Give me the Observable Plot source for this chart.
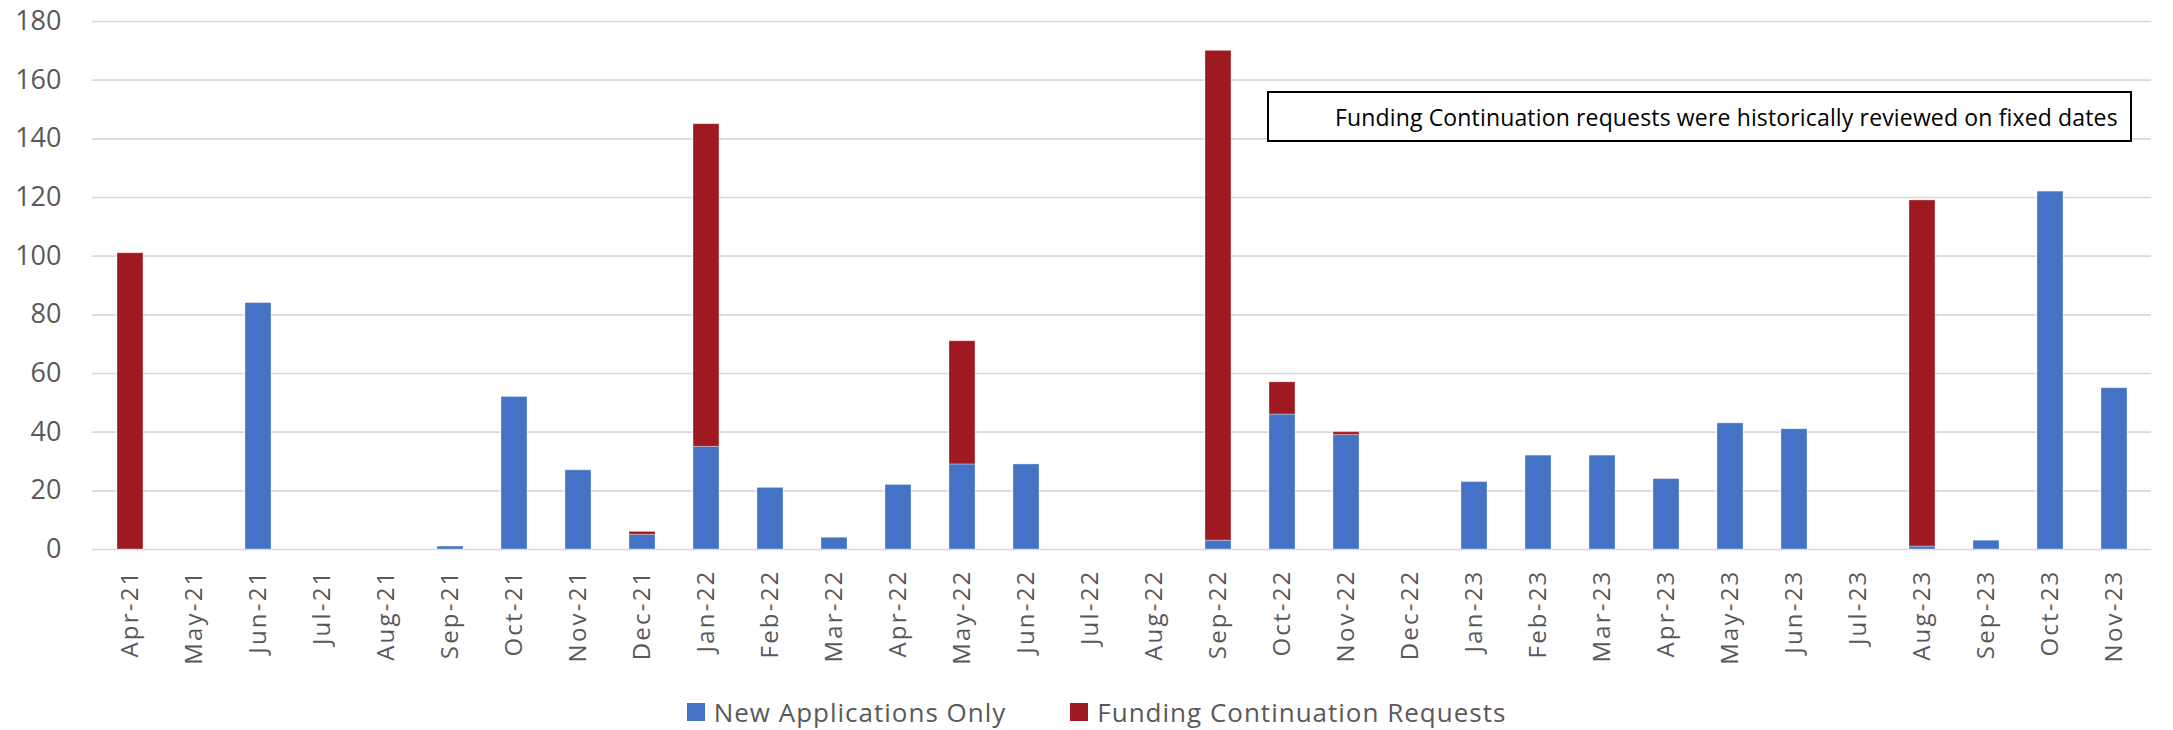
<!DOCTYPE html>
<html>
<head>
<meta charset="utf-8">
<script src="https://cdn.jsdelivr.net/npm/d3@7"></script>
<script src="https://cdn.jsdelivr.net/npm/@observablehq/plot@0.6"></script>
<style>
  html, body { margin: 0; padding: 0; background: #fff; }
  #wrap { position: relative; width: 2173px; height: 730px; font-family: "Open Sans", sans-serif; }
  #note { position: absolute; left: 1267px; top: 91px; width: 861px; height: 47px; border: 2px solid #000;
          background: #fff; font-family: "Open Sans", sans-serif; font-size: 23px; letter-spacing: 0.15px; color: #000;
          display: flex; align-items: center; justify-content: flex-start; box-sizing: content-box; }
  #note span { margin-left: 66px; white-space: nowrap; }
  #legend { position: absolute; left: 10px; top: 694px; width: 2173px; height: 36px; display: flex;
            justify-content: center; align-items: center; font-size: 26px; letter-spacing: 1px; color: #595959; }
  .item { display: flex; align-items: center; margin: 0 32px; }
  .sw { width: 18px; height: 18px; margin-right: 9px; }
</style>
</head>
<body>
<div id="wrap"></div>
<script>
const months = ["Apr-21","May-21","Jun-21","Jul-21","Aug-21","Sep-21","Oct-21","Nov-21","Dec-21",
  "Jan-22","Feb-22","Mar-22","Apr-22","May-22","Jun-22","Jul-22","Aug-22","Sep-22","Oct-22","Nov-22","Dec-22",
  "Jan-23","Feb-23","Mar-23","Apr-23","May-23","Jun-23","Jul-23","Aug-23","Sep-23","Oct-23","Nov-23"];
const newApplications = [0,0,84,0,0,1,52,27,5, 35,21,4,22,29,29,0,0,3,46,39,0, 23,32,32,24,43,41,0,1,3,122,55];
const fundingContinuation = [101,0,0,0,0,0,0,0,1, 110,0,0,0,42,0,0,0,167,11,1,0, 0,0,0,0,0,0,0,118,0,0,0];
const seriesNames = ["New Applications Only", "Funding Continuation Requests"];
const seriesColors = ["#4472C4", "#9E1A20"];
const yTicks = [0,20,40,60,80,100,120,140,160,180];
const noteText = "Funding Continuation requests were historically reviewed on fixed dates";

const rows = [];
months.forEach((m, i) => {
  rows.push({month: m, series: seriesNames[0], value: newApplications[i]});
  rows.push({month: m, series: seriesNames[1], value: fundingContinuation[i]});
});
const data = rows.filter(d => d.value > 0);

const chart = Plot.plot({
  width: 2173,
  height: 690,
  marginLeft: 92,
  marginRight: 22,
  marginTop: 21,
  marginBottom: 141,
  style: {fontFamily: "Open Sans, sans-serif", background: "#fff"},
  x: {domain: months, paddingInner: 0.6, paddingOuter: 0.3, label: null},
  y: {domain: [0, 180], label: null},
  color: {domain: seriesNames, range: seriesColors},
  marks: [
    Plot.ruleY(yTicks, {stroke: "#D9D9D9", strokeWidth: 1.6}),
    Plot.barY(data, Plot.stackY({x: "month", y: "value", fill: "series", order: seriesNames,
      stroke: "#ffffff", strokeOpacity: 0.35, strokeWidth: 1})),
    Plot.axisY(yTicks, {tickSize: 0, tickPadding: 31, fontSize: 27, fill: "#595959", label: null}),
    Plot.axisX(months, {tickSize: 0, tickPadding: 20, tickRotate: -90, fontSize: 24, fill: "#595959", label: null})
  ]
});
chart.querySelectorAll("[aria-label='x-axis tick label'] text").forEach(t => t.style.letterSpacing = "2.2px");

const wrap = document.getElementById("wrap");
wrap.appendChild(chart);

const note = document.createElement("div");
note.id = "note";
const noteSpan = document.createElement("span");
noteSpan.textContent = noteText;
note.appendChild(noteSpan);
wrap.appendChild(note);

const legend = document.createElement("div");
legend.id = "legend";
seriesNames.forEach((name, i) => {
  const it = document.createElement("div");
  it.className = "item";
  const sw = document.createElement("div");
  sw.className = "sw";
  sw.style.background = seriesColors[i];
  const lb = document.createElement("span");
  lb.textContent = name;
  it.appendChild(sw); it.appendChild(lb);
  legend.appendChild(it);
});
wrap.appendChild(legend);
</script>
</body>
</html>
